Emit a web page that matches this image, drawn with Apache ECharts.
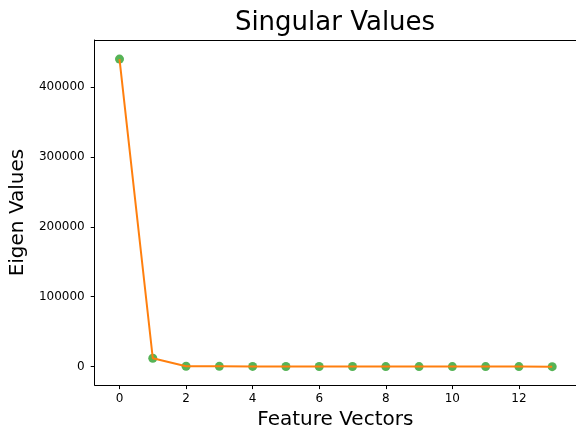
<!DOCTYPE html>
<html>
<head>
<meta charset="utf-8">
<script src="https://cdn.jsdelivr.net/npm/echarts@6/dist/echarts.min.js"></script>
<style>html,body{margin:0;padding:0;background:#fff}#c{width:576px;height:435px}</style>
</head>
<body>
<div id="c"></div>
<script>
const featureIndex = [0,1,2,3,4,5,6,7,8,9,10,11,12,13];
const singularValues = [440000, 12000, 600, 400, 300, 250, 200, 150, 120, 100, 80, 60, 40, 20];
const xTicks = [0,2,4,6,8,10,12];
const yTicks = [0,100000,200000,300000,400000];

const pts = featureIndex.map((x,i)=>[x, singularValues[i]]);
const font = 'DejaVu Sans';
const xMin = -0.745, xMax = 13.715;
const chart = echarts.init(document.getElementById('c'), null, {renderer:'canvas'});
chart.setOption({
  animation:false,
  backgroundColor:'#fff',
  title:{text:'Singular Values', left:330, top:5, textAlign:'center',
    textStyle:{fontFamily:font, fontSize:26, fontWeight:'normal', color:'#000'}},
  grid:{left:94, right:0, top:40, bottom:49, show:false},
  xAxis:[{type:'value', min:xMin, max:xMax,
    name:'Feature Vectors', nameLocation:'middle', nameGap:22,
    nameTextStyle:{fontFamily:font, fontSize:20, color:'#000'},
    axisLine:{show:true, onZero:false, lineStyle:{color:'#000', width:1}},
    axisTick:{show:true, length:4, customValues:xTicks, lineStyle:{color:'#000'}},
    axisLabel:{customValues:xTicks, margin:8, fontFamily:font, fontSize:12, color:'#000',
      formatter:(v)=>String(v)},
    splitLine:{show:false}},
    {type:'value', position:'top', min:xMin, max:xMax,
    axisLine:{show:true, onZero:false, lineStyle:{color:'#000', width:1}},
    axisTick:{show:false}, axisLabel:{show:false}, splitLine:{show:false}}],
  yAxis:{type:'value', min:-26400, max:467300,
    name:'Eigen Values', nameLocation:'middle', nameGap:66, nameRotate:90,
    nameTextStyle:{fontFamily:font, fontSize:20, color:'#000'},
    axisLine:{show:true, onZero:false, lineStyle:{color:'#000', width:1}},
    axisTick:{show:true, length:4, customValues:yTicks, lineStyle:{color:'#000'}},
    axisLabel:{customValues:yTicks, margin:10, fontFamily:font, fontSize:12, color:'#000',
      formatter:(v)=>String(v)},
    splitLine:{show:false}},
  series:[
    {type:'scatter', data:pts, symbol:'circle', symbolSize:9, itemStyle:{color:'#2ca02c'}, z:2},
    {type:'line', data:pts, showSymbol:false, symbol:'none', lineStyle:{color:'#ff7f0e', width:2}, z:3}
  ]
});
</script>
</body>
</html>
